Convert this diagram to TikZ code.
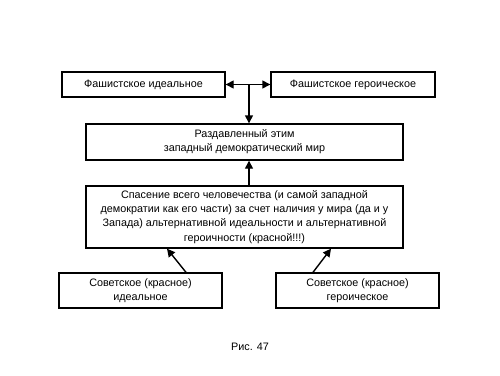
\documentclass[tikz,border=0pt]{standalone}
\usepackage{fontspec}
\setmainfont{Liberation Sans}
\usetikzlibrary{arrows.meta}
\begin{document}
\begin{tikzpicture}[x=1pt,y=-1pt,
  box/.style={draw=black, line width=1.4pt, fill=white, inner sep=2pt, align=center,
    font=\fontsize{10.8}{14.2}\selectfont},
  conn/.style={line width=1.4pt, -{Triangle[length=8pt,width=8pt]}},
  dconn/.style={line width=1.4pt, {Triangle[length=8pt,width=8pt]}-{Triangle[length=8pt,width=8pt]}}]
\useasboundingbox[fill=white] (0,0) rectangle (500,375);
\node[box, minimum width=163pt, minimum height=25pt] (b1) at (143.5,84.5) {Фашистское идеальное};
\node[box, minimum width=164pt, minimum height=25pt] (b2) at (353,84.5) {Фашистское героическое};
\node[box, minimum width=317pt, minimum height=36pt] (b3) at (244.5,142) {Раздавленный этим\\западный демократический мир};
\node[box, minimum width=317pt, minimum height=62pt] (b4) at (244.5,217) {Спасение всего человечества (и самой западной\\демократии как его части) за счет наличия у мира (да и у\\Запада) альтернативной идеальности и альтернативной\\героичности (красной!!!)};
\node[box, minimum width=163pt, minimum height=35pt] (b5) at (140.5,290.5) {Советское (красное)\\идеальное};
\node[box, minimum width=163pt, minimum height=35pt] (b6) at (357.5,290.5) {Советское (красное)\\героическое};
\node[font=\fontsize{10.8}{12}\selectfont] (cap) at (250,347) {Рис. 47};
\coordinate (j) at (249,84.5);
\draw[dconn] (b1.east) -- (b2.west);
\draw[conn] (j) -- (j |- b3.north);
\draw[conn] (j |- b4.north) -- (j |- b3.south);
\draw[conn] ([xshift=45.5pt]b5.north) -- ([xshift=-77.5pt]b4.south);
\draw[conn] ([xshift=-44.5pt]b6.north) -- ([xshift=86.5pt]b4.south);
\end{tikzpicture}
\end{document}
